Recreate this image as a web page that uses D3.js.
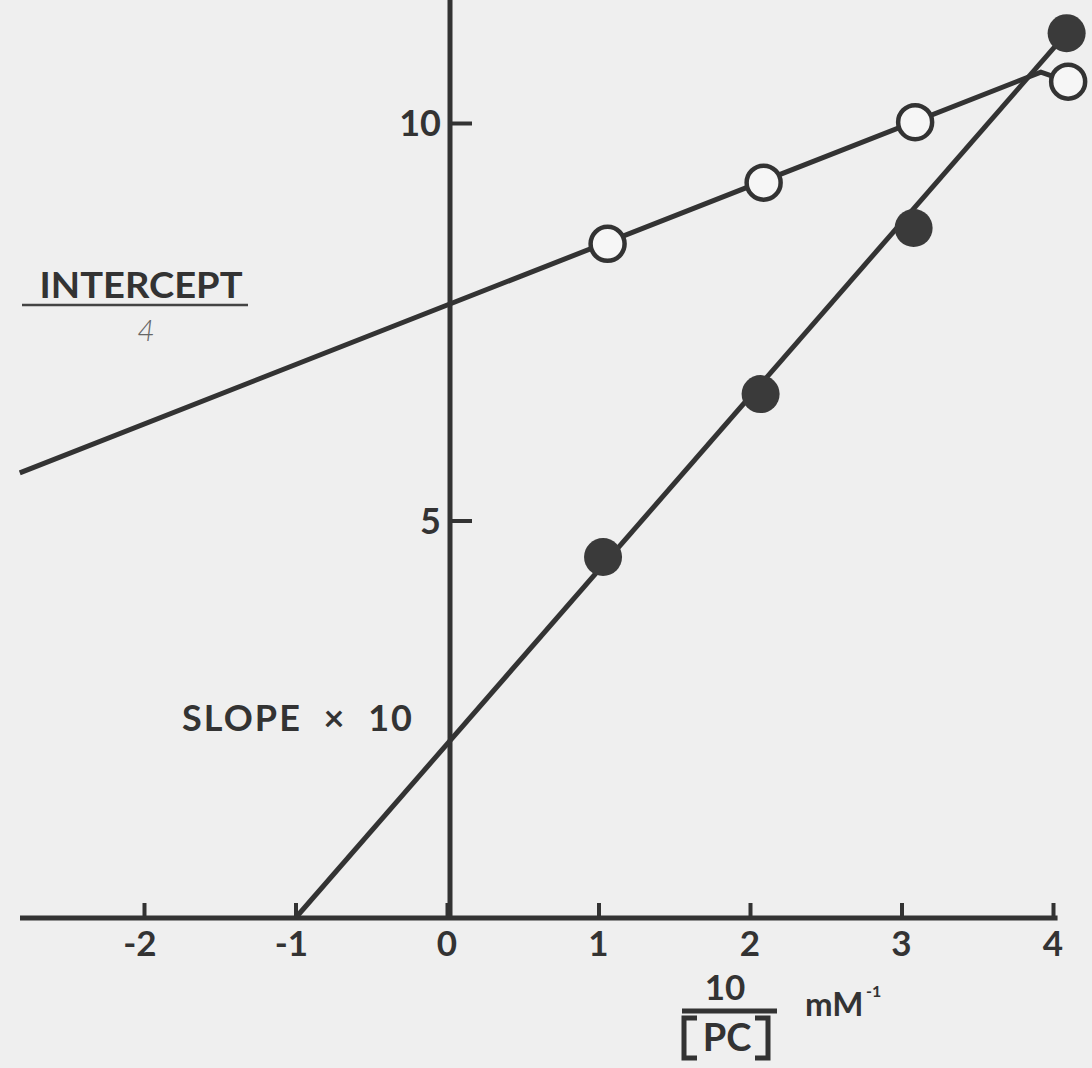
<!DOCTYPE html>
<html><head><meta charset="utf-8">
<script src="https://cdn.jsdelivr.net/npm/d3@7"></script>
<style>html,body{margin:0;padding:0;background:#efefef;}svg{display:block;}</style>
</head><body>
<script>
// ---- data ----
const xTicks = [-2, -1, 0, 1, 2, 3, 4];
const xTickLabels = ["-2", "-1", "0", "1", "2", "3", "4"];
const yTicks = [5, 10];
const yTickLabels = ["5", "10"];
const openX = [1.06, 2.09, 3.09, 4.10];
const openY = [8.48, 9.25, 10.01, 10.52];
const filledX = [1.03, 2.07, 3.08, 4.09];
const filledY = [4.54, 6.59, 8.68, 11.13];
const interceptLineX = [-2.82, 3.92, 4.10];
const interceptLineY = [5.60, 10.64, 10.52];
const slopeLineX = [-1.0, 4.09];
const slopeLineY = [0, 11.13];

const W = 1092, H = 1068, ink = "#333";
const svg = d3.select("body").append("svg").attr("width", W).attr("height", H)
  .style("font-family", "Lato, 'Open Sans', sans-serif");
svg.append("rect").attr("width", W).attr("height", H).attr("fill", "#efefef");

const x = d3.scaleLinear().domain([-2, 4]).range([144, 1053]);
const y = d3.scaleLinear().domain([0, 10]).range([918, 123]);

// x axis
const xa = svg.append("g").attr("transform", `translate(0,${y(0)})`)
  .call(d3.axisTop(x).tickValues(xTicks).tickSize(15).tickSizeOuter(0).tickFormat(() => ""));
xa.select(".domain").remove();
xa.selectAll(".tick line").attr("stroke", ink).attr("stroke-width", 4);
svg.append("line").attr("x1", 20).attr("x2", x(4.03))
  .attr("y1", y(0)).attr("y2", y(0)).attr("stroke", ink).attr("stroke-width", 5);
svg.selectAll(".xl").data(xTicks).join("text").attr("class", "xl")
  .attr("x", (d) => x(d) - (d < 0 ? 4 : 0)).attr("y", y(0) + 38)
  .attr("text-anchor", "middle").attr("font-size", 35).attr("font-weight", 700).attr("fill", ink)
  .text((d, i) => xTickLabels[i]);

// y axis
const ya = svg.append("g").attr("transform", `translate(${x(0) + 3},0)`)
  .call(d3.axisRight(y).tickValues(yTicks).tickSize(22).tickSizeOuter(0).tickFormat(() => ""));
ya.select(".domain").remove();
ya.selectAll(".tick line").attr("stroke", ink).attr("stroke-width", 4);
svg.append("line").attr("x1", x(0) + 3).attr("x2", x(0) + 3)
  .attr("y1", y(0)).attr("y2", y(11.68)).attr("stroke", ink).attr("stroke-width", 5);
svg.selectAll(".yl").data(yTicks).join("text").attr("class", "yl")
  .attr("x", x(0) - 6).attr("y", (d) => y(d) + 13)
  .attr("text-anchor", "end").attr("font-size", 36).attr("font-weight", 700).attr("fill", ink)
  .text((d, i) => yTickLabels[i]);

// lines
const line = d3.line().x((d) => x(d[0])).y((d) => y(d[1]));
svg.append("path").datum(interceptLineX.map((v, i) => [v, interceptLineY[i]]))
  .attr("d", line).attr("fill", "none").attr("stroke", ink).attr("stroke-width", 5);
svg.append("path").datum(slopeLineX.map((v, i) => [v, slopeLineY[i]]))
  .attr("d", line).attr("fill", "none").attr("stroke", ink).attr("stroke-width", 5);

// points
svg.selectAll(".op").data(openX.map((v, i) => [v, openY[i]])).join("circle").attr("class", "op")
  .attr("cx", (d) => x(d[0])).attr("cy", (d) => y(d[1])).attr("r", 17)
  .attr("fill", "#f6f6f6").attr("stroke", ink).attr("stroke-width", 4.5);
svg.selectAll(".fp").data(filledX.map((v, i) => [v, filledY[i]])).join("circle").attr("class", "fp")
  .attr("cx", (d) => x(d[0])).attr("cy", (d) => y(d[1])).attr("r", 19)
  .attr("fill", "#3a3a3a");

// labels
svg.append("text").attr("x", 141).attr("y", 298).attr("text-anchor", "middle")
  .attr("font-size", 36).attr("font-weight", 700).attr("fill", ink)
  .attr("textLength", 203).attr("lengthAdjust", "spacingAndGlyphs").text("INTERCEPT");
svg.append("line").attr("x1", 22).attr("x2", 248).attr("y1", 305).attr("y2", 305)
  .attr("stroke", "#444").attr("stroke-width", 2.5);
svg.append("text").attr("x", 146).attr("y", 341).attr("text-anchor", "middle")
  .attr("font-size", 30).attr("font-style", "italic").attr("font-weight", 300)
  .attr("fill", "#666").text("4");
svg.append("text").attr("x", 182).attr("y", 731)
  .attr("font-size", 36).attr("font-weight", 700).attr("fill", ink).attr("xml:space", "preserve")
  .attr("textLength", 230).attr("lengthAdjust", "spacing").text("SLOPE  ×  10");

// axis title
svg.append("text").attr("x", 725).attr("y", 1000).attr("text-anchor", "middle")
  .attr("font-size", 35).attr("font-weight", 700).attr("fill", ink).text("10");
svg.append("line").attr("x1", 682).attr("x2", 777).attr("y1", 1011).attr("y2", 1011)
  .attr("stroke", ink).attr("stroke-width", 5);
svg.append("text").attr("x", 727).attr("y", 1051).attr("text-anchor", "middle")
  .attr("font-size", 38).attr("font-weight", 700).attr("fill", ink).text("PC");
svg.append("path").attr("d", "M697,1018 H684 V1058 H697").attr("fill", "none")
  .attr("stroke", ink).attr("stroke-width", 5);
svg.append("path").attr("d", "M755,1018 H768 V1058 H755").attr("fill", "none")
  .attr("stroke", ink).attr("stroke-width", 5);
svg.append("text").attr("x", 805).attr("y", 1016)
  .attr("font-size", 33).attr("font-weight", 700).attr("fill", ink).text("mM");
svg.append("text").attr("x", 866).attr("y", 997)
  .attr("font-size", 16).attr("font-weight", 700).attr("fill", ink).text("-1");
</script>
</body></html>
